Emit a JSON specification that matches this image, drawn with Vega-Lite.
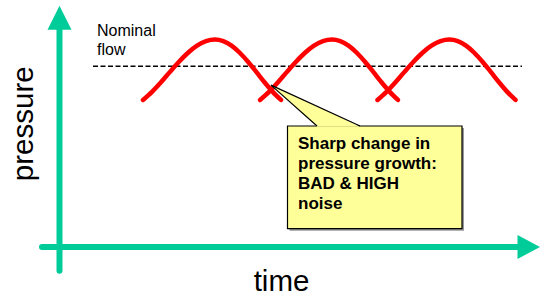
{
  "$schema": "https://vega.github.io/schema/vega-lite/v6.json",
  "width": 550,
  "height": 297,
  "autosize": {"type": "fit", "contains": "padding"},
  "padding": 0,
  "background": "white",
  "config": {"view": {"stroke": null}, "font": "Liberation Sans"},
  "encoding": {
    "x": {"field": "t", "type": "quantitative", "axis": null, "scale": {"domain": [0, 550], "nice": false, "zero": false}},
    "y": {"field": "p", "type": "quantitative", "axis": null, "scale": {"domain": [0, 297], "nice": false, "zero": false}}
  },
  "layer": [
    {
      "data": {"values": [
        {"t": 59.5, "p": 23.5, "t2": 59.5, "p2": 269},
        {"t": 42, "p": 47.5, "t2": 520, "p2": 47.5}
      ]},
      "mark": {"type": "rule", "color": "#00CC99", "strokeWidth": 6, "strokeCap": "round"},
      "encoding": {"x2": {"field": "t2"}, "y2": {"field": "p2"}}
    },
    {
      "data": {"values": [
        {"t": 59.5, "p": 279, "dir": "up"},
        {"t": 528.75, "p": 47.5, "dir": "right"}
      ]},
      "mark": {"type": "point", "filled": true, "color": "#00CC99", "opacity": 1, "strokeWidth": 0, "size": 576},
      "encoding": {
        "shape": {"field": "dir", "type": "nominal", "legend": null,
          "scale": {"domain": ["up", "right"], "range": ["M0,-1L1,1L-1,1Z", "M0.9375,0L-0.9375,-1L-0.9375,1Z"]}}
      }
    },
    {
      "data": {"values": [{"t": 93, "p": 230, "t2": 522}]},
      "mark": {"type": "rule", "color": "black", "strokeWidth": 1.5, "strokeDash": [5, 2.5]},
      "encoding": {"x2": {"field": "t2"}}
    },
    {
      "data": {"values": [
        {"t": 97, "p": 261, "label": "Nominal"},
        {"t": 97, "p": 241, "label": "flow"}
      ]},
      "mark": {"type": "text", "align": "left", "baseline": "alphabetic", "fontSize": 16, "color": "black"},
      "encoding": {"text": {"field": "label"}}
    },
    {
      "data": {"values": [
        {"arc": 1, "t": 143, "p": 196}, {"arc": 1, "t": 152, "p": 204.2}, {"arc": 1, "t": 161, "p": 213.9}, {"arc": 1, "t": 170, "p": 224.4},
        {"arc": 1, "t": 179, "p": 234.6}, {"arc": 1, "t": 188, "p": 243.7}, {"arc": 1, "t": 197, "p": 250.9}, {"arc": 1, "t": 206, "p": 255.4},
        {"arc": 1, "t": 215, "p": 257}, {"arc": 1, "t": 223.25, "p": 255.4}, {"arc": 1, "t": 231.5, "p": 250.9}, {"arc": 1, "t": 239.75, "p": 243.7},
        {"arc": 1, "t": 248, "p": 234.6}, {"arc": 1, "t": 256.25, "p": 224.4}, {"arc": 1, "t": 264.5, "p": 213.9}, {"arc": 1, "t": 272.75, "p": 204.2},
        {"arc": 1, "t": 281, "p": 196},
        {"arc": 2, "t": 260, "p": 196}, {"arc": 2, "t": 269, "p": 204.2}, {"arc": 2, "t": 278, "p": 213.9}, {"arc": 2, "t": 287, "p": 224.4},
        {"arc": 2, "t": 296, "p": 234.6}, {"arc": 2, "t": 305, "p": 243.7}, {"arc": 2, "t": 314, "p": 250.9}, {"arc": 2, "t": 323, "p": 255.4},
        {"arc": 2, "t": 332, "p": 257}, {"arc": 2, "t": 340.25, "p": 255.4}, {"arc": 2, "t": 348.5, "p": 250.9}, {"arc": 2, "t": 356.75, "p": 243.7},
        {"arc": 2, "t": 365, "p": 234.6}, {"arc": 2, "t": 373.25, "p": 224.4}, {"arc": 2, "t": 381.5, "p": 213.9}, {"arc": 2, "t": 389.75, "p": 204.2},
        {"arc": 2, "t": 398, "p": 196},
        {"arc": 3, "t": 377.5, "p": 196}, {"arc": 3, "t": 386.5, "p": 204.2}, {"arc": 3, "t": 395.5, "p": 213.9}, {"arc": 3, "t": 404.5, "p": 224.4},
        {"arc": 3, "t": 413.5, "p": 234.6}, {"arc": 3, "t": 422.5, "p": 243.7}, {"arc": 3, "t": 431.5, "p": 250.9}, {"arc": 3, "t": 440.5, "p": 255.4},
        {"arc": 3, "t": 449.5, "p": 257}, {"arc": 3, "t": 457.75, "p": 255.4}, {"arc": 3, "t": 466, "p": 250.9}, {"arc": 3, "t": 474.25, "p": 243.7},
        {"arc": 3, "t": 482.5, "p": 234.6}, {"arc": 3, "t": 490.75, "p": 224.4}, {"arc": 3, "t": 499, "p": 213.9}, {"arc": 3, "t": 507.25, "p": 204.2},
        {"arc": 3, "t": 515.5, "p": 196}
      ]},
      "mark": {"type": "line", "color": "#FF0000", "strokeWidth": 4.5, "strokeCap": "round", "strokeJoin": "round", "interpolate": "monotone"},
      "encoding": {"detail": {"field": "arc", "type": "nominal"}}
    },
    {
      "data": {"values": [{"t": 287.5, "p": 66, "t2": 462, "p2": 169.7}]},
      "mark": {"type": "rect", "color": "#999999", "xOffset": 2, "x2Offset": 2, "yOffset": 2, "y2Offset": 2},
      "encoding": {"x2": {"field": "t2"}, "y2": {"field": "p2"}}
    },
    {
      "data": {"values": [{"t": 287.5, "p": 66, "t2": 462, "p2": 169.7}]},
      "mark": {"type": "rect", "fill": "#FFFF99", "stroke": "black", "strokeWidth": 1.2},
      "encoding": {"x2": {"field": "t2"}, "y2": {"field": "p2"}}
    },
    {
      "data": {"values": [
        {"t": 271, "p": 211, "p2": 211},
        {"t": 317, "p": 189.65, "p2": 169},
        {"t": 360, "p": 169, "p2": 169}
      ]},
      "mark": {"type": "area", "color": "#FFFF99", "opacity": 1, "interpolate": "linear"},
      "encoding": {"y2": {"field": "p2"}}
    },
    {
      "data": {"values": [
        {"t": 271, "p": 211, "t2": 317, "p2": 169.7},
        {"t": 271, "p": 211, "t2": 360, "p2": 169.7}
      ]},
      "mark": {"type": "rule", "color": "black", "strokeWidth": 1.2},
      "encoding": {"x2": {"field": "t2"}, "y2": {"field": "p2"}}
    },
    {
      "data": {"values": [
        {"t": 298, "p": 146.3, "label": "Sharp change in"},
        {"t": 298, "p": 126.3, "label": "pressure growth:"},
        {"t": 298, "p": 106.3, "label": "BAD & HIGH"},
        {"t": 298, "p": 86.3, "label": "noise"}
      ]},
      "mark": {"type": "text", "align": "left", "baseline": "alphabetic", "fontSize": 17, "fontWeight": "bold", "color": "black"},
      "encoding": {"text": {"field": "label"}}
    },
    {
      "data": {"values": [{"t": 281.5, "p": 3, "label": "time"}]},
      "mark": {"type": "text", "align": "center", "baseline": "alphabetic", "fontSize": 29.5, "color": "black"},
      "encoding": {"text": {"field": "label"}}
    },
    {
      "data": {"values": [{"t": 33, "p": 172, "label": "pressure"}]},
      "mark": {"type": "text", "align": "center", "baseline": "alphabetic", "fontSize": 29.5, "angle": 270, "color": "black"},
      "encoding": {"text": {"field": "label"}}
    }
  ]
}
